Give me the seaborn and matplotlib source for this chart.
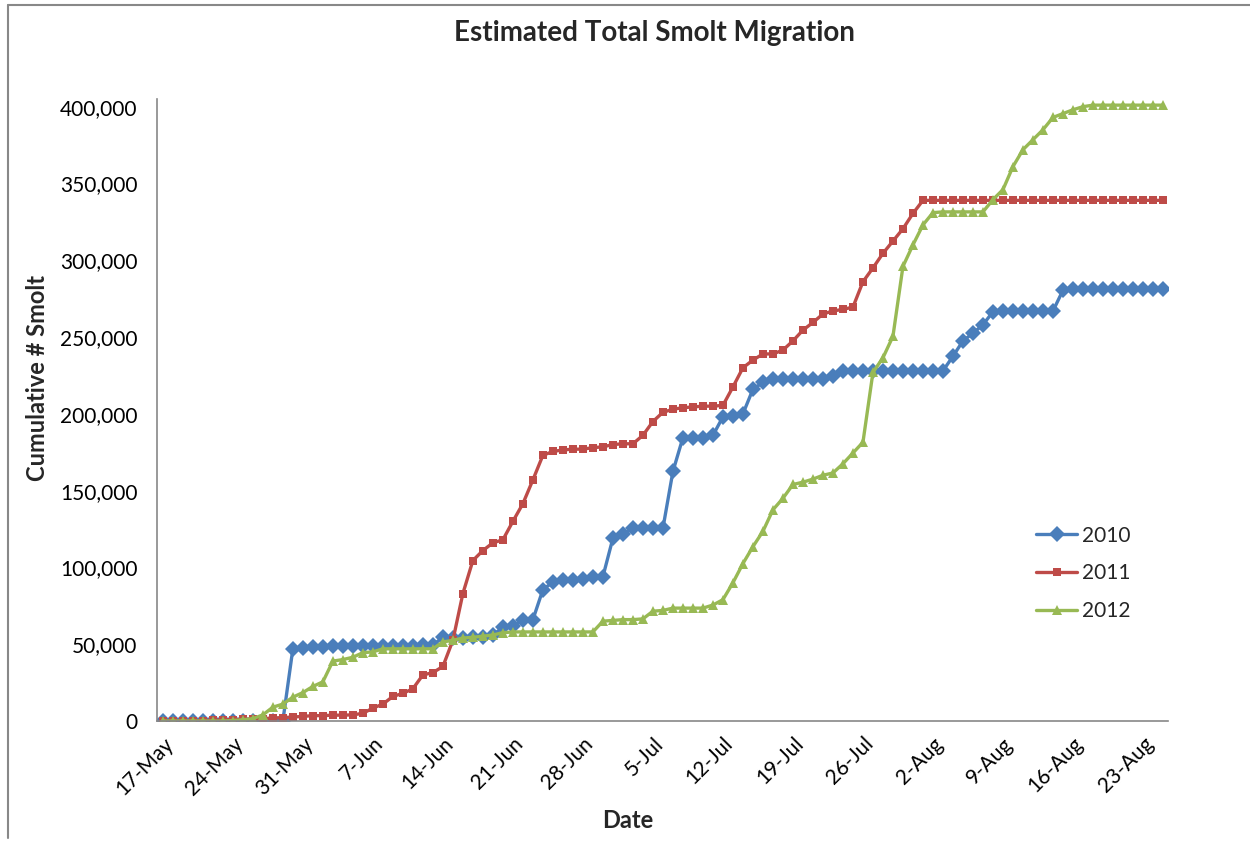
import matplotlib
matplotlib.use("Agg")
import matplotlib.pyplot as plt
from matplotlib.lines import Line2D
import pandas as pd
import seaborn as sns

# ---- data (cumulative smolt counts, daily from 17-May) ----
start_date = "2013-05-17"
n_days = 101

smolt_2010 = [0, 0, 0, 0, 0, 0, 0, 0, 0, 0,
              0, 0, 0, 47000, 47500, 48000, 48500, 49000, 49000, 49000,
              49000, 49000, 49000, 49000, 49000, 49000, 49500, 49500, 54500, 54000,
              54000, 54500, 55000, 56000, 61000, 62000, 65500, 66000, 85500, 90500,
              92000, 92000, 92500, 93500, 94000, 119000, 121500, 125500, 125500, 125500,
              125500, 162500, 184500, 184500, 184500, 186000, 198000, 198500, 200000, 216000,
              220500, 222500, 222500, 222500, 222500, 222500, 222500, 224500, 228000, 228000,
              228000, 228000, 228000, 228000, 228000, 228000, 228000, 228000, 228000, 237500,
              247500, 252500, 258000, 266500, 267000, 267000, 267000, 267000, 267000, 267000,
              280500, 281500, 281500, 281500, 281500, 281500, 281500, 281500, 281500, 281500,
              281500]

smolt_2011 = [0, 0, 0, 0, 300, 500, 700, 900, 1000, 1300,
              1500, 2000, 2200, 2600, 3000, 3500, 3500, 3800, 3800, 4000,
              5000, 8400, 11000, 16000, 18000, 21000, 30000, 31500, 35500, 52500,
              83000, 104500, 111000, 116000, 118000, 130000, 141500, 157000, 173000, 175500,
              176500, 177000, 177000, 178000, 178500, 180000, 180500, 180500, 186000, 195000,
              201000, 203000, 204000, 204500, 205000, 205000, 205500, 217500, 230000, 235000,
              239000, 239000, 241500, 247500, 254500, 259500, 265000, 267000, 268000, 269500,
              286000, 295000, 304500, 312500, 320500, 330500, 339000, 339000, 339000, 339000,
              339000, 339000, 339000, 339000, 339000, 339000, 339000, 339000, 339000, 339000,
              339000, 339000, 339000, 339000, 339000, 339000, 339000, 339000, 339000, 339000,
              339000]

smolt_2012 = [0, 0, 0, 0, 0, 0, 0, 300, 800, 1500,
              4000, 9000, 11000, 15500, 18500, 22500, 25500, 39000, 40000, 41500,
              44500, 45000, 47000, 47000, 47000, 47000, 47000, 47000, 51500, 52500,
              54000, 54500, 55200, 56000, 57500, 58000, 58000, 58000, 58000, 58000,
              58000, 58000, 58000, 58000, 65000, 65500, 66000, 66000, 66500, 71500,
              72000, 73500, 73500, 73500, 73500, 75500, 79000, 90000, 102500, 113500,
              123500, 137500, 145000, 154000, 155500, 157500, 160000, 161500, 167500, 174500,
              181500, 227000, 236500, 250500, 296000, 310000, 323000, 331000, 331500, 331500,
              331500, 331500, 331500, 339500, 346000, 361000, 372000, 378500, 385000, 393000,
              395500, 398000, 400000, 401000, 401000, 401000, 401000, 401000, 401000, 401000,
              401000]

years = ["2010", "2011", "2012"]
series = [smolt_2010, smolt_2011, smolt_2012]
colors = ["#4A7EBB", "#BE4B48", "#98B954"]
markers = ["D", "s", "^"]
msizes = [8.0, 6.0, 7.5]

dates = pd.date_range(start_date, periods=n_days, freq="D")
frames = [pd.DataFrame({"Date": dates, "Smolt": vals, "Year": y}) for y, vals in zip(years, series)]
df = pd.concat(frames, ignore_index=True)

sns.set_theme(style="white")
plt.rcParams["font.family"] = ["Lato", "DejaVu Sans"]

fig = plt.figure(figsize=(12.5, 8.41), dpi=100)
ax = fig.add_axes([157 / 1250, 1 - 721 / 841, (1168 - 157) / 1250, (721 - 99) / 841])

for y, c, m, ms in zip(years, colors, markers, msizes):
    sub = df[df["Year"] == y]
    sns.lineplot(data=sub, x="Date", y="Smolt", ax=ax, color=c, marker=m,
                 markersize=ms, markeredgewidth=0, linewidth=2.4, label=y,
                 estimator=None, errorbar=None)

ax.set_ylim(0, 405000)
ax.set_xlim(dates[0] - pd.Timedelta(hours=14), dates[-1] + pd.Timedelta(hours=12))
ax.set_yticks(range(0, 400001, 50000))
ax.yaxis.set_major_formatter(matplotlib.ticker.FuncFormatter(lambda v, p: f"{int(v):,}"))
tick_dates = pd.date_range(start_date, periods=15, freq="7D")
ax.set_xticks(tick_dates)
ax.set_xticklabels([f"{d.day}-{d.strftime('%b')}" for d in tick_dates])
ax.tick_params(axis="both", length=0, labelsize=15, colors="black")
ax.tick_params(axis="y", pad=14)
ax.tick_params(axis="x", pad=9)
for lbl in ax.get_xticklabels():
    lbl.set_rotation(45)
    lbl.set_ha("right")
    lbl.set_va("top")
    lbl.set_rotation_mode("anchor")

for s in ["top", "right"]:
    ax.spines[s].set_visible(False)
for s in ["left", "bottom"]:
    ax.spines[s].set_color("#888888")
    ax.spines[s].set_linewidth(1.2)

ax.set_xlabel("Date", fontsize=17, fontweight="bold")
ax.xaxis.set_label_coords((628 - 157) / 1011, -(820 - 721) / 622)
ax.set_ylabel("Cumulative # Smolt", fontsize=17, fontweight="bold")
ax.yaxis.set_label_coords(-(157 - 37) / 1011, (721 - 378) / 622)
ax.xaxis.label.set_va("center")
ax.yaxis.label.set_va("center")
fig.text(654 / 1250, 1 - 33 / 841, "Estimated Total Smolt Migration", ha="center", va="center",
         fontsize=20, fontweight="bold")

leg = ax.legend(loc="upper left", bbox_to_anchor=((1017 - 157) / (1168 - 157), (721 - 507) / (721 - 99)),
                frameon=False, fontsize=15, handlelength=2.0, labelspacing=0.85, handletextpad=0.2)

# chart-area border (left and top)
fig.add_artist(Line2D([8 / 1250, 8 / 1250], [1 - 838 / 841, 1 - 5 / 841], color="#888888", lw=1.5,
                      transform=fig.transFigure))
fig.add_artist(Line2D([8 / 1250, 1.0], [1 - 5 / 841, 1 - 5 / 841], color="#888888", lw=1.5,
                      transform=fig.transFigure))

fig.savefig("out.png", dpi=100)
